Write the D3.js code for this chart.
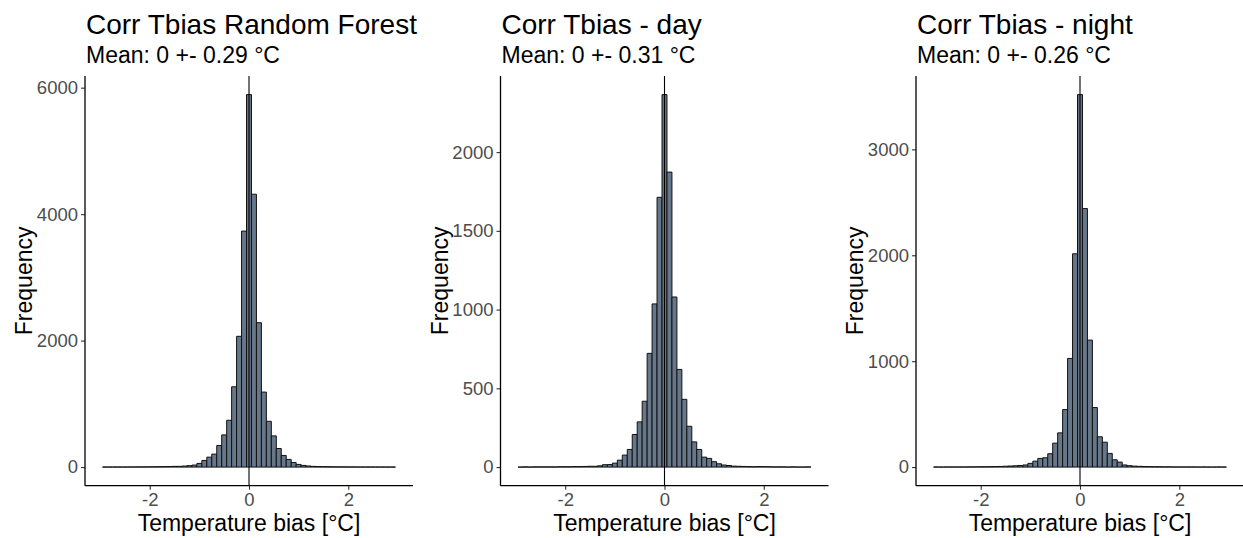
<!DOCTYPE html>
<html>
<head>
<meta charset="utf-8">
<script src="https://cdn.jsdelivr.net/npm/d3@7"></script>
<style>
  html, body { margin: 0; padding: 0; background: #fff; }
  svg { display: block; font-family: "Liberation Sans", Arial, Helvetica, sans-serif; }
</style>
</head>
<body>
<svg id="chart" width="1243" height="538"></svg>
<script>
// Histogram bin centres (bin width 0.1 °C)
const binCenters = [
  -2.9, -2.8, -2.7, -2.6, -2.5, -2.4, -2.3, -2.2, -2.1, -2.0,
  -1.9, -1.8, -1.7, -1.6, -1.5, -1.4, -1.3, -1.2, -1.1, -1.0,
  -0.9, -0.8, -0.7, -0.6, -0.5, -0.4, -0.3, -0.2, -0.1, 0.0,
  0.1, 0.2, 0.3, 0.4, 0.5, 0.6, 0.7, 0.8, 0.9, 1.0,
  1.1, 1.2, 1.3, 1.4, 1.5, 1.6, 1.7, 1.8, 1.9, 2.0,
  2.1, 2.2, 2.3, 2.4, 2.5, 2.6, 2.7, 2.8, 2.9
];
const binWidth = 0.1;

// Counts per bin for each subset
const countsAll = [
  1, 0, 1, 1, 1, 2, 2, 3, 3, 4,
  5, 6, 7, 9, 11, 12, 16, 22, 32, 58,
  105, 157, 205, 341, 509, 740, 1270, 2068, 3732, 5890,
  4315, 2283, 1186, 724, 493, 294, 184, 121, 73, 42,
  26, 17, 11, 8, 6, 5, 4, 3, 3, 2,
  2, 1, 1, 1, 1, 0, 1, 0, 1
];
const countsDay = [
  0, 1, 0, 1, 1, 1, 1, 1, 2, 2,
  2, 3, 3, 4, 5, 5, 8, 15, 16, 25,
  44, 76, 112, 207, 287, 418, 722, 1036, 1713, 2365,
  1873, 1080, 620, 430, 259, 160, 112, 63, 55, 34,
  21, 13, 10, 6, 5, 4, 3, 2, 3, 3,
  2, 1, 1, 1, 0, 1, 0, 0, 1
];
const countsNight = [
  1, 0, 1, 1, 1, 1, 1, 2, 2, 3,
  3, 4, 5, 6, 8, 10, 12, 15, 20, 35,
  56, 82, 88, 126, 226, 323, 543, 1026, 2014, 3517,
  2441, 1199, 562, 286, 235, 129, 69, 47, 20, 13,
  9, 7, 5, 4, 3, 3, 2, 2, 1, 1,
  1, 1, 1, 0, 1, 0, 0, 1, 0
];

const titles = ["Corr Tbias Random Forest", "Corr Tbias - day", "Corr Tbias - night"];
const subtitles = ["Mean: 0 +- 0.29 °C", "Mean: 0 +- 0.31 °C", "Mean: 0 +- 0.26 °C"];
const yTicksAll = [0, 2000, 4000, 6000];
const yTicksDay = [0, 500, 1000, 1500, 2000];
const yTicksNight = [0, 1000, 2000, 3000];
const xTicks = [-2, 0, 2];
const xLabel = "Temperature bias [°C]";
const yLabel = "Frequency";

const panels = [
  { counts: countsAll, yTicks: yTicksAll },
  { counts: countsDay, yTicks: yTicksDay },
  { counts: countsNight, yTicks: yTicksNight }
].map((p, i) => ({ ...p, title: titles[i], subtitle: subtitles[i] }));

const svg = d3.select("#chart");
const panelStep = 415.5;
const plotLeft = 85, plotWidth = 328, plotTop = 76, plotBottom = 485.7;
const barFill = "#67778a";
const tickColor = "#4d4d4d";

panels.forEach((p, i) => {
  const left = plotLeft + i * panelStep;
  const g = svg.append("g").attr("transform", `translate(${left},0)`);

  const xMin = d3.min(binCenters) - binWidth / 2;
  const xMax = d3.max(binCenters) + binWidth / 2;
  const xPad = (xMax - xMin) * 0.06;
  const x = d3.scaleLinear()
    .domain([xMin - xPad, xMax + xPad])
    .range([0, plotWidth]);

  const yMax = d3.max(p.counts);
  const y = d3.scaleLinear()
    .domain([-0.05 * yMax, 1.05 * yMax])
    .range([plotBottom, plotTop]);

  const bins = binCenters.map((c, k) => ({ x0: c - binWidth / 2, x1: c + binWidth / 2, n: p.counts[k] }));

  // bars as closed paths, so empty bins still show their outline on the baseline
  g.append("g").selectAll("path")
    .data(bins)
    .join("path")
    .attr("d", d => {
      const a = x(d.x0), b = x(d.x1), y0 = y(0), y1 = y(d.n);
      return `M${a},${y0}H${b}V${y1}H${a}Z`;
    })
    .attr("fill", barFill)
    .attr("stroke", "#111")
    .attr("stroke-width", 1);

  // reference line at zero bias
  g.append("line")
    .attr("x1", x(0)).attr("x2", x(0))
    .attr("y1", plotTop).attr("y2", plotBottom)
    .attr("stroke", "#000")
    .attr("stroke-width", 1.1);

  // y axis
  const yAxis = d3.axisLeft(y).tickValues(p.yTicks).tickSize(4).tickPadding(3).tickFormat(d3.format("d"));
  const ya = g.append("g").call(yAxis);
  ya.select(".domain").remove();
  ya.selectAll(".tick line").attr("stroke", "#333").attr("stroke-width", 1.1);
  ya.selectAll(".tick text").attr("fill", tickColor).style("font-size", "18.5px")
    .style("font-family", "'Liberation Sans', Arial, sans-serif");
  g.append("line")
    .attr("x1", 0).attr("x2", 0)
    .attr("y1", plotTop).attr("y2", plotBottom)
    .attr("stroke", "#000").attr("stroke-width", 1.3);

  // x axis
  const xAxis = d3.axisBottom(x).tickValues(xTicks).tickSize(4).tickPadding(3).tickFormat(d => String(d));
  const xa = g.append("g").attr("transform", `translate(0,${plotBottom})`).call(xAxis);
  xa.select(".domain").remove();
  xa.selectAll(".tick line").attr("stroke", "#333").attr("stroke-width", 1.1);
  xa.selectAll(".tick text").attr("fill", tickColor).style("font-size", "18.5px")
    .style("font-family", "'Liberation Sans', Arial, sans-serif");
  g.append("line")
    .attr("x1", 0).attr("x2", plotWidth)
    .attr("y1", plotBottom).attr("y2", plotBottom)
    .attr("stroke", "#000").attr("stroke-width", 1.3);

  // titles
  g.append("text")
    .attr("x", 1).attr("y", 34)
    .style("font-size", "28px")
    .attr("fill", "#000")
    .text(p.title);
  g.append("text")
    .attr("x", 1).attr("y", 62.5)
    .style("font-size", "23px")
    .attr("fill", "#000")
    .text(p.subtitle);

  // axis titles
  g.append("text")
    .attr("x", x(0)).attr("y", 530.5)
    .attr("text-anchor", "middle")
    .style("font-size", "23px")
    .attr("fill", "#000")
    .text(xLabel);
  g.append("text")
    .attr("transform", `translate(-53,${(plotTop + plotBottom) / 2}) rotate(-90)`)
    .attr("text-anchor", "middle")
    .style("font-size", "23px")
    .attr("fill", "#000")
    .text(yLabel);
});
</script>
</body>
</html>
